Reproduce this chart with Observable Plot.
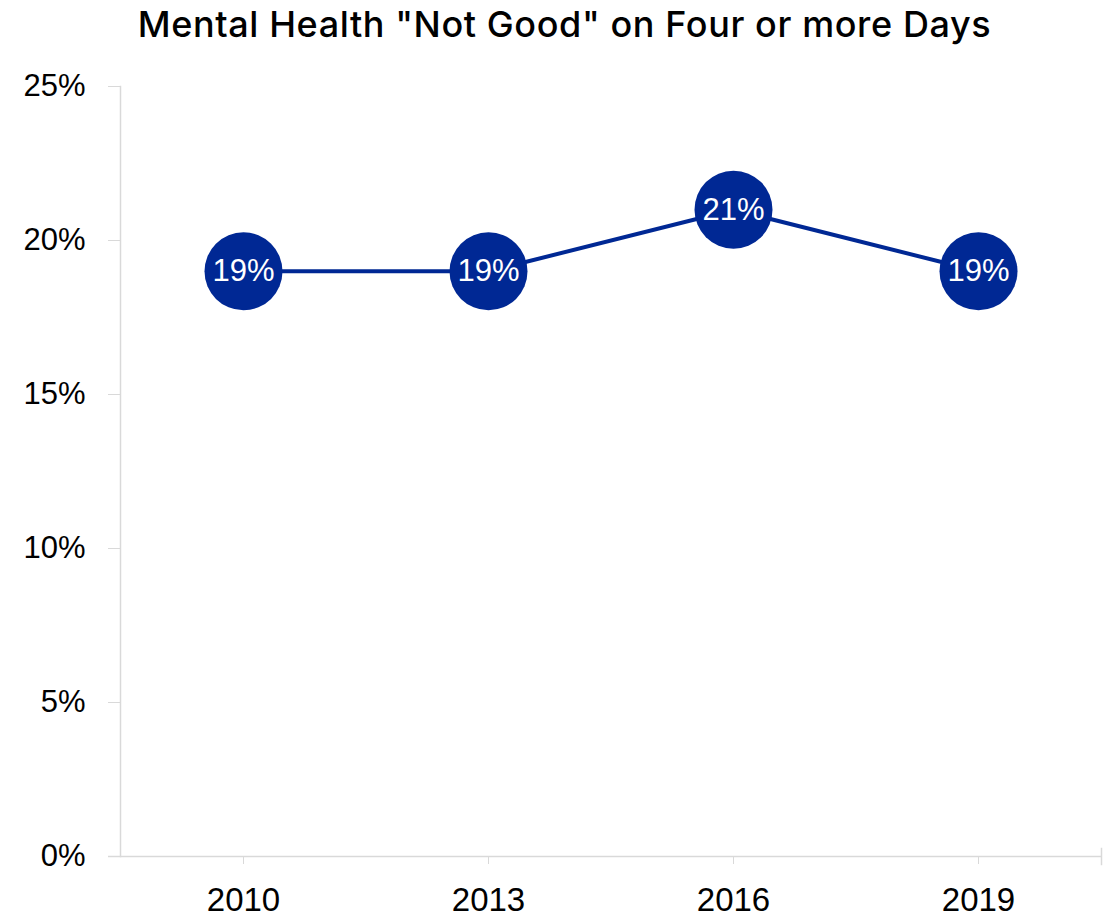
<!DOCTYPE html>
<html>
<head>
<meta charset="utf-8">
<script src="https://cdn.jsdelivr.net/npm/d3@7"></script>
<script src="https://cdn.jsdelivr.net/npm/@observablehq/plot@0.6"></script>
<style>
  body { margin: 0; background: #fff; font-family: "Liberation Sans", Arial, sans-serif; }
  #title { height: 52px; width: 1117px; display: flex; align-items: center; justify-content: center; font-family: Inter, "Liberation Sans", sans-serif; font-weight: 500; font-size: 36px; letter-spacing: 0.6px; color: #000; padding-left: 12px; padding-bottom: 4px; box-sizing: border-box; white-space: nowrap; }
</style>
</head>
<body>
<div id="title">Mental Health "Not Good" on Four or more Days</div>
<div id="chart"></div>
<script>
const years = ["2010", "2013", "2016", "2019"];
const values = [19, 19, 21, 19];
const yTicks = [0, 5, 10, 15, 20, 25];

const data = years.map((y, i) => ({year: y, value: values[i]}));
const blue = "#002894";
const grey = "#d9d9d9";

const chart = Plot.plot({
  width: 1117,
  height: 868,
  marginTop: 34,
  marginBottom: 64,
  marginLeft: 120,
  marginRight: 16,
  style: {fontFamily: "'Liberation Sans', Arial, sans-serif", color: "#000", background: "#fff"},
  x: {type: "point", domain: years, padding: 0.5, label: null},
  y: {domain: [0, 25], label: null},
  marks: [
    Plot.frame({anchor: "left", stroke: grey, strokeWidth: 1.5}),
    Plot.ruleY([0], {stroke: grey, strokeWidth: 1.5, insetLeft: -12}),
    Plot.frame({anchor: "right", stroke: grey, strokeWidth: 1.5, insetTop: 762, insetBottom: -8}),
    Plot.axisY({ticks: yTicks, tickSize: 12, tickPadding: 23, stroke: grey, fill: "#000", fontSize: 31, tickFormat: d => d + "%", label: null}),
    Plot.axisX({tickSize: 8, tickPadding: 23, stroke: grey, fill: "#000", fontSize: 33, label: null, style: {letterSpacing: "1px"}}),
    Plot.line(data, {x: "year", y: "value", stroke: blue, strokeWidth: 4}),
    Plot.dot(data, {x: "year", y: "value", r: 39, fill: blue, stroke: "none"}),
    Plot.text(data, {x: "year", y: "value", text: d => d.value + "%", fill: "#fff", fontSize: 31})
  ]
});
document.getElementById("chart").appendChild(chart);
</script>
</body>
</html>
